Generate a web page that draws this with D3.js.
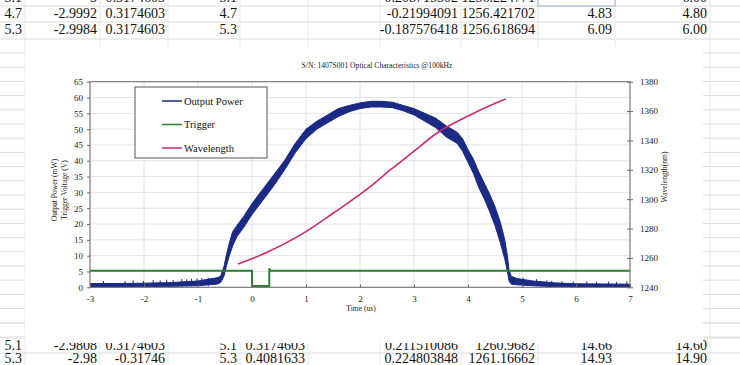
<!DOCTYPE html>
<html><head><meta charset="utf-8">
<script src="https://cdn.jsdelivr.net/npm/d3@7"></script>
<style>body{margin:0;background:#fff}svg{display:block}text{font-family:"Liberation Serif","Times New Roman",serif}</style>
</head><body><svg id="c" width="740" height="365"></svg>
<script>
// ---------- data ----------
const xTicks = [-3,-2,-1,0,1,2,3,4,5,6,7];
const yLeftTicks = [0,5,10,15,20,25,30,35,40,45,50,55,60,65];
const yRightTicks = [1240,1260,1280,1300,1320,1340,1360,1380];
const seriesNames = ["Output Power","Trigger","Wavelength"];

// Output power envelope (time µs, low mW, high mW)
const powerT  = [-3.0,-2.5,-2.0,-1.5,-1.0,-0.8,-0.65,-0.58,-0.52,-0.47,-0.42,-0.36,-0.28,-0.15,0.0,0.2,0.4,0.6,0.8,1.0,1.2,1.4,1.6,1.8,2.0,2.2,2.4,2.6,2.8,3.0,3.2,3.4,3.6,3.8,3.9,4.0,4.1,4.2,4.3,4.4,4.5,4.6,4.68,4.73,4.76,4.8,4.9,5.2,5.6,6.0,7.0];
const powerLo = [0,0,0.2,0.3,0.5,0.8,1.0,1.5,3.5,7,10,13,16,19,23,27.5,32,37,42.5,47,50,52,54,55.5,56.5,57,57,56.8,55.8,54.5,52.5,50.5,47.5,45.5,43,39.5,36,31.5,28,24,19.5,14,9,5,2,1,0.8,0.5,0.2,0,0];
const powerHi = [1.2,1.2,1.3,1.5,2.0,2.6,3.0,3.5,6.5,10.5,14,17.5,19.5,22.5,26.5,31,35.5,40,45.5,50,52.5,54.5,56.5,57.5,58.3,58.8,58.8,58.5,57.5,56.5,55,53.5,51,49,47,43.5,40.5,36.5,33,29.5,25.5,20.5,15,10,5.5,3.5,2.8,2.0,1.4,1.1,1.0];
// small spikes on the baseline (time µs, peak mW)
const spikeT = [-2.75,-2.35,-2.2,-2.01,-1.83,-1.7,-1.58,-1.46,-1.3,-1.21,-1.12,-1.02,-0.93,-0.81,5.02,5.27,5.46,5.55,5.74,5.95,6.2,6.38,6.6,6.75,6.94];
const spikeV = [2.0,2.0,2.2,2.0,2.3,2.1,2.4,2.3,2.6,2.5,2.7,2.8,2.9,3.0,3.0,2.6,2.2,2.0,1.9,1.8,1.9,1.7,1.8,1.7,1.9];

// Trigger voltage (V)
const trigT = [-3,0,0,0.32,0.32,0.34,7];
const trigV = [5.25,5.25,0.4,0.4,6.0,5.25,5.25];

// Wavelength (nm)
const wlT = [-0.26,0.26,0.89,1.5,2.19,2.56,3.0,3.42,4.04,4.4,4.7];
const wlV = [1255.9,1263.5,1275.5,1290.4,1308.5,1319.9,1332.7,1344.9,1357.3,1363.6,1368.2];

// spreadsheet cells
const colRight = [22,97,165,237,305,458,535,612,707];
const rowsTop = [
  ["5.1","-3","0.3174603","5.1","","-0.208715502","1256.224771","","6.00"],
  ["4.7","-2.9992","0.3174603","4.7","","-0.21994091","1256.421702","4.83","4.80"],
  ["5.3","-2.9984","0.3174603","5.3","","-0.187576418","1256.618694","6.09","6.00"]];
const rowsBottom = [
  ["5.1","-2.9808","0.3174603","5.1","0.3174603","0.211510086","1260.9682","14.66","14.60"],
  ["5.3","-2.98","-0.31746","5.3","0.4081633","0.224803848","1261.16662","14.93","14.90"]];
const titleText = "S/N: 1407S001  Optical Characteristics @100kHz";

// ---------- drawing ----------
const svg = d3.select("#c");
const grid = "#dcdcdc";
const sheet = svg.append("g");
[6,22,39].concat(d3.range(53,340,14.2)).concat([323,338,353]).forEach(y=>{
  sheet.append("line").attr("x1",0).attr("x2",740).attr("y1",y).attr("y2",y).attr("stroke",grid);
});
[25,100,168,240,308,380,461,538,615,710].forEach(x=>{
  sheet.append("line").attr("x1",x).attr("x2",x).attr("y1",0).attr("y2",365).attr("stroke","#e8e8e8");
});
sheet.append("rect").attr("x",538).attr("y",-2).attr("width",77).attr("height",8).attr("fill","none").attr("stroke","#9fb4d8");
function rowText(row, yb){
  row.forEach((s,i)=>{ if(!s) return;
    sheet.append("text").attr("x",colRight[i]).attr("y",yb).attr("text-anchor","end")
      .attr("font-size",14).attr("fill","#111").text(s);});
}
rowText(rowsTop[0],2); rowText(rowsTop[1],18); rowText(rowsTop[2],34);
rowText(rowsBottom[0],350); rowText(rowsBottom[1],363);

// chart area
svg.append("rect").attr("x",25).attr("y",47).attr("width",678).attr("height",296).attr("fill","#fff");

const x = d3.scaleLinear().domain([-3,7]).range([90,630]);
const yL = d3.scaleLinear().domain([0,65]).range([287.3,81.7]);
const yR = d3.scaleLinear().domain([1240,1380]).range([287.3,81.7]);
const plot = svg.append("g");
plot.selectAll(".vg").data(xTicks).enter().append("line")
  .attr("x1",d=>x(d)).attr("x2",d=>x(d)).attr("y1",yL(0)).attr("y2",yL(65)).attr("stroke","#e2e2ea");
plot.selectAll(".hg").data(yLeftTicks).enter().append("line")
  .attr("x1",x(-3)).attr("x2",x(7)).attr("y1",d=>yL(d)).attr("y2",d=>yL(d)).attr("stroke","#e2e2ea");

svg.append("defs").append("clipPath").attr("id","pc").append("rect")
  .attr("x",x(-3)).attr("y",yL(65)).attr("width",x(7)-x(-3)).attr("height",yL(0)-yL(65));
const pg = plot.append("g").attr("clip-path","url(#pc)");
const bandData = powerT.map((t,i)=>({t,lo:powerLo[i],hi:powerHi[i]}));
pg.append("path").datum(bandData)
  .attr("d",d3.area().x(d=>x(d.t)).y0(d=>yL(d.lo)).y1(d=>yL(d.hi)))
  .attr("fill","#1b2a84").attr("stroke","#1b2a84").attr("stroke-width",1);
pg.selectAll(".sp").data(spikeT.map((t,i)=>({t,v:spikeV[i]}))).enter().append("line")
  .attr("x1",d=>x(d.t)).attr("x2",d=>x(d.t)).attr("y1",yL(0.3)).attr("y2",d=>yL(d.v))
  .attr("stroke","#1b2a84").attr("stroke-width",1);

pg.append("path").datum(trigT.map((t,i)=>[t,trigV[i]]))
  .attr("d",d3.line().x(d=>x(d[0])).y(d=>yL(d[1])))
  .attr("fill","none").attr("stroke","#2b8034").attr("stroke-width",2);

plot.append("path").datum(wlT.map((t,i)=>[t,wlV[i]]))
  .attr("d",d3.line().curve(d3.curveMonotoneX).x(d=>x(d[0])).y(d=>yR(d[1])))
  .attr("fill","none").attr("stroke","#cc2a78").attr("stroke-width",1.6);

plot.append("rect").attr("x",x(-3)).attr("y",yL(65)).attr("width",x(7)-x(-3)).attr("height",yL(0)-yL(65))
  .attr("fill","none").attr("stroke","#6a6a6a").attr("stroke-width",1);

const fmt = d=>String(d);
const axB = d3.axisBottom(x).tickValues(xTicks).tickSize(-3).tickPadding(8).tickFormat(fmt);
const gB = svg.append("g").attr("transform",`translate(0,${yL(0)})`).call(axB);
const axL = d3.axisLeft(yL).tickValues(yLeftTicks).tickSize(3).tickPadding(4).tickFormat(fmt);
const gL = svg.append("g").attr("transform",`translate(${x(-3)},0)`).call(axL);
const axR = d3.axisRight(yR).tickValues(yRightTicks).tickSize(3).tickPadding(7).tickFormat(fmt);
const gR = svg.append("g").attr("transform",`translate(${x(7)},0)`).call(axR);
gR.selectAll(".tick line").attr("x1",-3);
[gB,gL,gR].forEach(g=>{
  g.select(".domain").remove();
  g.selectAll(".tick line").attr("stroke","#6a6a6a");
  g.selectAll("text").attr("font-family","Liberation Serif").attr("font-size",9).attr("fill","#222");
});

svg.append("text").attr("x",377).attr("y",68).attr("text-anchor","middle").attr("font-size",7.6).attr("fill","#222").text(titleText);
svg.append("text").attr("transform","translate(57,190) rotate(-90)").attr("text-anchor","middle").attr("font-size",7.6).attr("fill","#222").text("Output Power (mW)");
svg.append("text").attr("transform","translate(67,190) rotate(-90)").attr("text-anchor","middle").attr("font-size",7.6).attr("fill","#222").text("Trigger Voltage (V)");
svg.append("text").attr("transform","translate(667,177) rotate(-90)").attr("text-anchor","middle").attr("font-size",7.6).attr("fill","#222").text("Wavelength(nm)");
svg.append("text").attr("x",361).attr("y",311).attr("text-anchor","middle").attr("font-size",7.6).attr("fill","#222").text("Time (us)");

const lg = svg.append("g");
lg.append("rect").attr("x",135).attr("y",87).attr("width",132).attr("height",71).attr("fill","#fff").attr("stroke","#555");
const legColors = ["#1b2a84","#2b8034","#cc2a78"];
const ly = d3.scalePoint().domain(seriesNames).range([101,148]);
seriesNames.forEach((n,i)=>{
  lg.append("line").attr("x1",162).attr("x2",182).attr("y1",ly(n)).attr("y2",ly(n)).attr("stroke",legColors[i]).attr("stroke-width",1.5);
  lg.append("text").attr("x",184).attr("y",ly(n)+3.5).attr("font-size",10.5).attr("fill","#111").text(n);
});
</script></body></html>
